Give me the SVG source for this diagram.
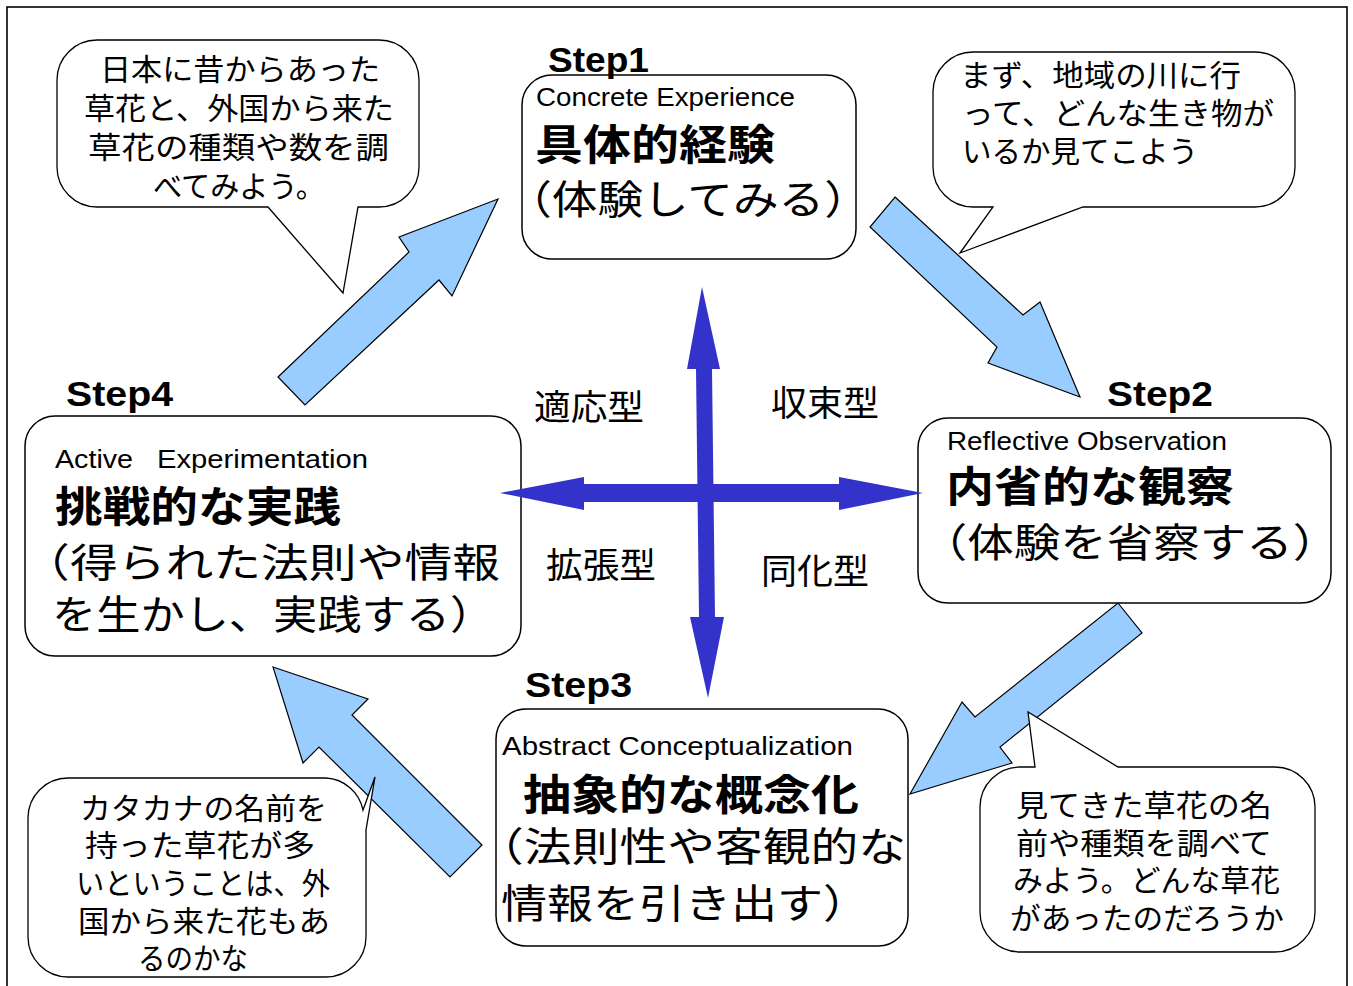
<svg xmlns="http://www.w3.org/2000/svg" width="1353" height="986" viewBox="0 0 1353 986">
<style>
.frame{fill:#fff;stroke:#000;stroke-width:1.6}
.box{fill:#fff;stroke:#000;stroke-width:1.5}
.callout{fill:#fff;stroke:#000;stroke-width:1.3;stroke-linejoin:miter}
.barrow{fill:#99ccff;stroke:#000;stroke-width:1.2;stroke-linejoin:miter}
.cross{fill:#3333cc}
.jp{font-family:"Noto Sans CJK JP","Noto Sans CJK SC",sans-serif;fill:#000}
.en{font-family:"Liberation Sans",Arial,sans-serif;fill:#000;font-size:26px;font-weight:normal}
.step{font-family:"Liberation Sans",Arial,sans-serif;font-weight:bold;font-size:35px;fill:#000}
.title{font-weight:bold;font-size:42px}
.body{font-size:40px;font-weight:normal}
.note{font-size:30px}
.type{font-size:35px}
.h{font-feature-settings:"halt"}
</style>
<rect class="frame" x="7" y="7" width="1340" height="990"/>

<g id="node-step1">
  <rect class="box" x="522" y="75" width="334" height="184" rx="30" ry="30"/>
  <text class="step" x="548" y="72" textLength="101" lengthAdjust="spacingAndGlyphs">Step1</text>
  <text class="jp"><tspan class="en" x="536" y="106" textLength="259" lengthAdjust="spacingAndGlyphs">Concrete Experience</tspan><tspan class="title" x="535" y="160" textLength="240" lengthAdjust="spacingAndGlyphs">具体的経験</tspan><tspan class="body" x="529" y="214" textLength="318" lengthAdjust="spacingAndGlyphs"><tspan class="h">（</tspan>体験してみる<tspan class="h">）</tspan></tspan></text>
</g>

<g id="node-step2">
  <rect class="box" x="918" y="418" width="413" height="185" rx="30" ry="30"/>
  <text class="step" x="1107" y="406" textLength="106" lengthAdjust="spacingAndGlyphs">Step2</text>
  <text class="jp"><tspan class="en" x="947" y="450" textLength="280" lengthAdjust="spacingAndGlyphs">Reflective Observation</tspan><tspan class="title" x="946" y="502" textLength="288" lengthAdjust="spacingAndGlyphs">内省的な観察</tspan><tspan class="body" x="944" y="557" textLength="372" lengthAdjust="spacingAndGlyphs"><tspan class="h">（</tspan>体験を省察する<tspan class="h">）</tspan></tspan></text>
</g>

<g id="node-step3">
  <rect class="box" x="496" y="709" width="412" height="237" rx="30" ry="30"/>
  <text class="step" x="525" y="697" textLength="107" lengthAdjust="spacingAndGlyphs">Step3</text>
  <text class="jp"><tspan class="en" x="502" y="755" textLength="351" lengthAdjust="spacingAndGlyphs">Abstract Conceptualization</tspan><tspan class="title" x="523" y="810" textLength="336" lengthAdjust="spacingAndGlyphs">抽象的な概念化</tspan><tspan class="body" x="500" y="861" textLength="406" lengthAdjust="spacingAndGlyphs"><tspan class="h">（</tspan>法則性や客観的な</tspan><tspan class="body" x="501" y="918" textLength="345" lengthAdjust="spacingAndGlyphs">情報を引き出す<tspan class="h">）</tspan></tspan></text>
</g>

<g id="node-step4">
  <rect class="box" x="25" y="416" width="496" height="240" rx="30" ry="30"/>
  <text class="step" x="66" y="406" textLength="107" lengthAdjust="spacingAndGlyphs">Step4</text>
  <text class="jp"><tspan class="en" x="55" y="468" textLength="78" lengthAdjust="spacingAndGlyphs">Active</tspan><tspan class="en"> </tspan><tspan class="en" x="157" y="468" textLength="211" lengthAdjust="spacingAndGlyphs">Experimentation</tspan><tspan class="title" x="55" y="522" textLength="286" lengthAdjust="spacingAndGlyphs">挑戦的な実践</tspan><tspan class="body" x="46" y="577" textLength="454" lengthAdjust="spacingAndGlyphs"><tspan class="h">（</tspan>得られた法則や情報</tspan><tspan class="body" x="52" y="629" textLength="420" lengthAdjust="spacingAndGlyphs">を生かし、実践する<tspan class="h">）</tspan></tspan></text>
</g>

<g id="connectors">
  <polygon class="barrow" points="278,377 409,252 399,237 498,199 452,296 439,280 305,405"/>
  <polygon class="barrow" points="895,197 1023,315 1040,302 1080,397 988,363 997,347 870,227"/>
  <polygon class="barrow" points="1118,603 1142,633 1000,747 1012,763 910,794 962,702 975,717"/>
  <polygon class="barrow" points="273,667 368,699 352,715 482,845 450,877 319,747 303,763"/>
  <polygon class="cross" points="702,287 720,369 712,369 715,617 724,617 708,698 690,617 699,617 696,369 687,369"/>
  <polygon class="cross" points="500,493 584,477 584,484 839,484 839,477 923,493 839,510 839,502 584,502 584,510"/>
</g>

<g id="callout-1">
  <path class="callout" d="M97,40 H379 A40,40 0 0 1 419,80 V167 A40,40 0 0 1 379,207 H358 L343,293 L268,207 H97 A40,40 0 0 1 57,167 V80 A40,40 0 0 1 97,40 Z"/>
  <text class="jp note"><tspan x="100" y="80" textLength="280" lengthAdjust="spacingAndGlyphs">日本に昔からあった</tspan><tspan x="84" y="119" textLength="310" lengthAdjust="spacingAndGlyphs">草花と、外国から来た</tspan><tspan x="88" y="158" textLength="301" lengthAdjust="spacingAndGlyphs">草花の種類や数を調</tspan><tspan x="153" y="197" textLength="172" lengthAdjust="spacingAndGlyphs">べてみよう。</tspan></text>
</g>

<g id="callout-2">
  <path class="callout" d="M973,52 H1255 A40,40 0 0 1 1295,92 V167 A40,40 0 0 1 1255,207 H1083 L960,253 L993,207 H973 A40,40 0 0 1 933,167 V92 A40,40 0 0 1 973,52 Z"/>
  <text class="jp note"><tspan x="960" y="86" textLength="281" lengthAdjust="spacingAndGlyphs">まず、地域の川に行</tspan><tspan x="962" y="124" textLength="312" lengthAdjust="spacingAndGlyphs">って、どんな生き物が</tspan><tspan x="962" y="162" textLength="236" lengthAdjust="spacingAndGlyphs">いるか見てこよう</tspan></text>
</g>

<g id="callout-3">
  <path class="callout" d="M68,778 H326 A40,40 0 0 1 363,810 L375,777 L366,830 V937 A40,40 0 0 1 326,977 H68 A40,40 0 0 1 28,937 V818 A40,40 0 0 1 68,778 Z"/>
  <text class="jp note"><tspan x="80" y="819" textLength="247" lengthAdjust="spacingAndGlyphs">カタカナの名前を</tspan><tspan x="85" y="856" textLength="230" lengthAdjust="spacingAndGlyphs">持った草花が多</tspan><tspan x="76" y="894" textLength="254" lengthAdjust="spacingAndGlyphs">いということは、外</tspan><tspan x="78" y="932" textLength="252" lengthAdjust="spacingAndGlyphs">国から来た花もあ</tspan><tspan x="138" y="969" textLength="110" lengthAdjust="spacingAndGlyphs">るのかな</tspan></text>
</g>

<g id="callout-4">
  <path class="callout" d="M1020,767 H1035 L1028,712 L1118,767 H1275 A40,40 0 0 1 1315,807 V912 A40,40 0 0 1 1275,952 H1020 A40,40 0 0 1 980,912 V807 A40,40 0 0 1 1020,767 Z"/>
  <text class="jp note"><tspan x="1016" y="816" textLength="256" lengthAdjust="spacingAndGlyphs">見てきた草花の名</tspan><tspan x="1016" y="854" textLength="256" lengthAdjust="spacingAndGlyphs">前や種類を調べて</tspan><tspan x="1013" y="891" textLength="267" lengthAdjust="spacingAndGlyphs">みよう。どんな草花</tspan><tspan x="1010" y="929" textLength="274" lengthAdjust="spacingAndGlyphs">があったのだろうか</tspan></text>
</g>

<g id="type-labels">
  <text class="jp type" x="534" y="420" textLength="110" lengthAdjust="spacingAndGlyphs">適応型</text>
  <text class="jp type" x="771" y="416" textLength="108" lengthAdjust="spacingAndGlyphs">収束型</text>
  <text class="jp type" x="546" y="578" textLength="110" lengthAdjust="spacingAndGlyphs">拡張型</text>
  <text class="jp type" x="761" y="584" textLength="108" lengthAdjust="spacingAndGlyphs">同化型</text>
</g>
</svg>
